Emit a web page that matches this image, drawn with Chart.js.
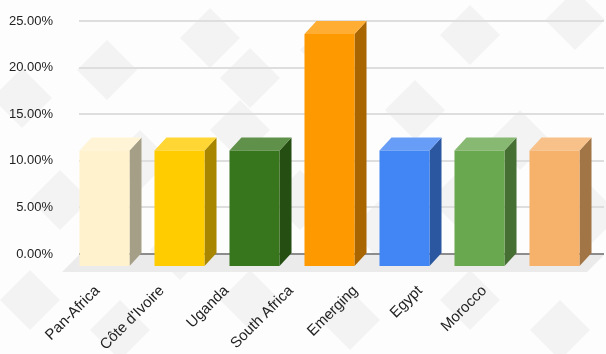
<!DOCTYPE html>
<html><head><meta charset="utf-8">
<script src="https://cdn.jsdelivr.net/npm/chart.js@4"></script>
<style>html,body{margin:0;padding:0;background:#fff}#wrap{width:606px;height:354px;position:relative}</style>
</head><body><div id="wrap"><canvas id="c" width="606" height="354"></canvas></div>
<script>
const categories = ["Pan-Africa", "Côte d'Ivoire", "Uganda", "South Africa", "Emerging", "Egypt", "Morocco"];
const values = [12.5, 12.5, 12.5, 25, 12.5, 12.5, 12.5];
const yTicks = [0, 5, 10, 15, 20, 25];
const frontColors = ["#fff2cc", "#ffcc00", "#38761d", "#ff9900", "#4285f4", "#6aa84f", "#f6b26b"];
const sideColors  = ["#a69f88", "#a88600", "#254e13", "#a86500", "#2b57a1", "#466f34", "#a27546"];
const topColors   = ["#fff5d6", "#ffd633", "#60914a", "#ffad33", "#679df6", "#88b972", "#f8c189"];

const DX = -12, DY = 13; // front plane offset vs back wall

const bgDiamonds = [[22,98],[107,70],[210,38],[250,78],[330,50],[470,35],[575,20],[60,200],[140,160],[240,130],[415,110],[520,140],[590,215],[30,300],[120,330],[250,300],[350,320],[470,300],[560,330],[300,200],[380,230],[180,250],[460,200]];
const bgPlugin = {
  id: 'bg',
  beforeDraw(chart) {
    const ctx = chart.ctx;
    ctx.save();
    ctx.fillStyle = '#fdfdfd';
    ctx.fillRect(0, 0, chart.width, chart.height);
    ctx.fillStyle = '#f3f3f3';
    const R = 30;
    for (const [cx, cy] of bgDiamonds) {
      ctx.beginPath();
      ctx.moveTo(cx, cy - R); ctx.lineTo(cx + R, cy); ctx.lineTo(cx, cy + R); ctx.lineTo(cx - R, cy);
      ctx.closePath(); ctx.fill();
    }
    ctx.restore();
  }
};

const box3dPlugin = {
  id: 'box3d',
  beforeDatasetsDraw(chart) {
    const ctx = chart.ctx, a = chart.chartArea;
    const base = chart.scales.y.getPixelForValue(0);
    ctx.save();
    ctx.fillStyle = '#ebebeb';
    const fx = -17, fy = 18;
    ctx.beginPath();
    ctx.moveTo(a.left, base + 1);
    ctx.lineTo(a.right, base + 1);
    ctx.lineTo(a.right + fx, base + fy);
    ctx.lineTo(a.left + fx, base + fy);
    ctx.closePath(); ctx.fill();
    ctx.restore();
  },
  afterDatasetsDraw(chart) {
    const ctx = chart.ctx;
    const meta = chart.getDatasetMeta(0);
    ctx.save();
    meta.data.forEach((el, i) => {
      const p = el.getProps(['x', 'y', 'base', 'width'], true);
      const l = p.x - p.width / 2 + DX, r = p.x + p.width / 2 + DX;
      const t = p.y + DY, b = p.base + DY;
      const ox = -DX, oy = -DY;
      ctx.fillStyle = sideColors[i];
      ctx.beginPath();
      ctx.moveTo(r, t); ctx.lineTo(r + ox, t + oy); ctx.lineTo(r + ox, b + oy); ctx.lineTo(r, b);
      ctx.closePath(); ctx.fill();
      ctx.fillStyle = topColors[i];
      ctx.beginPath();
      ctx.moveTo(l, t); ctx.lineTo(l + ox, t + oy); ctx.lineTo(r + ox, t + oy); ctx.lineTo(r, t);
      ctx.closePath(); ctx.fill();
      ctx.fillStyle = frontColors[i];
      ctx.fillRect(l, t, r - l, b - t);
    });
    ctx.restore();
  }
};

new Chart(document.getElementById('c'), {
  type: 'bar',
  data: {
    labels: categories,
    datasets: [{
      data: values,
      xAxisID: 'x',
      backgroundColor: 'rgba(0,0,0,0)',
      borderWidth: 0,
      barPercentage: 0.667,
      categoryPercentage: 1.0
    }]
  },
  options: {
    responsive: false,
    animation: false,
    events: [],
    layout: { padding: { top: 21, right: 2, left: 0, bottom: 0 } },
    plugins: { legend: { display: false }, tooltip: { enabled: false } },
    scales: {
      x: { type: 'category', display: false },
      xl: {
        type: 'linear',
        position: 'bottom',
        offset: false,
        bounds: 'data',
        min: -0.2868, max: 7.853,
        afterBuildTicks(s) { s.ticks = categories.map((c, i) => ({ value: i })); },
        grid: { display: false, drawTicks: false, offset: false },
        border: { display: false },
        ticks: {
          minRotation: 45, maxRotation: 45, autoSkip: false,
          padding: 28,
          color: '#222222',
          font: { family: 'Liberation Sans, Arial, sans-serif', size: 15 },
          callback: v => categories[v]
        },
        afterFit(s) { s.height = 100; }
      },
      y: {
        min: 0, max: 25,
        afterBuildTicks(s) { s.ticks = yTicks.map(v => ({ value: v })); },
        grid: {
          drawTicks: true,
          tickLength: 26,
          tickColor: 'rgba(0,0,0,0)',
          lineWidth: 2,
          color: ctx => (ctx.tick && ctx.tick.value === 0) ? '#8c8c8c' : '#dedede'
        },
        border: { display: false },
        ticks: {
          padding: 0,
          color: '#222222',
          font: { family: 'Liberation Sans, Arial, sans-serif', size: 13 },
          callback: v => Number(v).toFixed(2) + '%'
        },
        afterFit(s) { s.width = 79; }
      }
    }
  },
  plugins: [bgPlugin, box3dPlugin]
});
</script>
</body></html>
